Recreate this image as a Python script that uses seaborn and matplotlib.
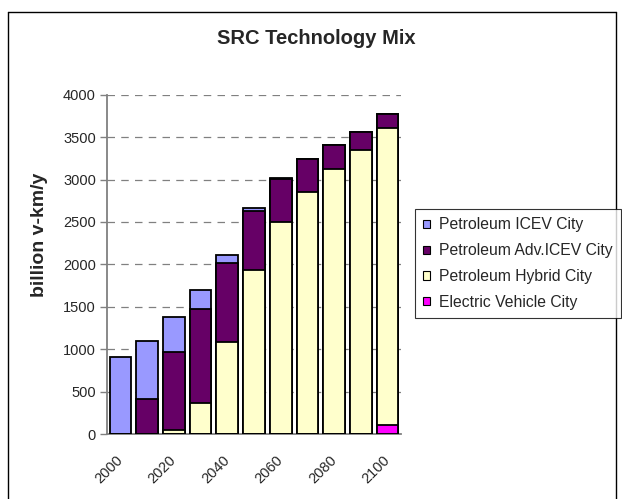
import seaborn as sns, matplotlib.pyplot as plt, pandas as pd
from matplotlib.patches import Patch
from matplotlib.lines import Line2D

years = [str(y) for y in range(2000, 2101, 10)]
icev = [910, 685, 415, 225, 85, 30, 10, 0, 0, 0, 0]
adv_icev = [0, 415, 920, 1105, 935, 700, 510, 385, 287, 212, 157]
hybrid = [0, 0, 45, 370, 1085, 1930, 2495, 2858, 3121, 3345, 3507]
electric = [0, 0, 0, 0, 0, 0, 0, 0, 0, 0, 105]

names = ["Petroleum ICEV City", "Petroleum Adv.ICEV City",
         "Petroleum Hybrid City", "Electric Vehicle City"]
colors = ["#9999FF", "#660066", "#FFFFCC", "#FF00FF"]

sns.set_style("white")
plt.rcParams["font.family"] = ["Liberation Sans", "DejaVu Sans"]

df = pd.DataFrame({"year": years, "icev": icev, "adv": adv_icev,
                   "hybrid": hybrid, "ev": electric})
# cumulative heights, drawn top segment first
df["c_ev"] = df["ev"]
df["c_hyb"] = df["c_ev"] + df["hybrid"]
df["c_adv"] = df["c_hyb"] + df["adv"]
df["c_icev"] = df["c_adv"] + df["icev"]

fig = plt.figure(figsize=(6.22, 4.99), dpi=100)
ax = fig.add_axes([107/622, 1-434/499, 294/622, (434-94.7)/499])

for col, c in zip(["c_icev", "c_adv", "c_hyb", "c_ev"], colors):
    sns.barplot(data=df, x="year", y=col, order=years, color=c, saturation=1,
                width=0.81, edgecolor="black", linewidth=1.3, ax=ax, zorder=3)

ax.set_xlim(-0.5, 10.5)
ax.set_ylim(0, 4000)
ax.set_yticks(range(0, 4001, 500))
ax.yaxis.grid(True, color="#808080", linestyle=(0, (6, 5)), linewidth=0.9)
ax.set_axisbelow(True)
for s in ["top", "right"]:
    ax.spines[s].set_visible(False)
for s in ["left", "bottom"]:
    ax.spines[s].set_color("#808080")
    ax.spines[s].set_linewidth(1.3)

ax.set_xticks(range(11))
ax.set_xticklabels([y if i % 2 == 0 else "" for i, y in enumerate(years)],
                   rotation=45, ha="right", va="center", rotation_mode="anchor",
                   fontsize=10.5)
ax.tick_params(axis="x", which="major", length=0, pad=17.5)
ax.set_xticks([i - 0.5 for i in range(12)], minor=True)
ax.tick_params(axis="x", which="minor", length=5, width=1, color="#808080", direction="out")
ax.tick_params(axis="y", length=5, width=1, color="#808080", direction="out",
               labelsize=10.5, left=True, pad=3)
ax.set_xlabel("")
ax.set_ylabel("billion v-km/y", fontsize=14, fontweight="bold")
ax.yaxis.set_label_coords(-0.2, 0.586)

fig.text(316/622, 1-39/499, "SRC Technology Mix", ha="center", va="center",
         fontsize=14.5, fontweight="bold")

handles = [Patch(facecolor=c, edgecolor="black", linewidth=0.8, label=n)
           for n, c in zip(names, colors)]
leg = fig.legend(handles=handles, loc="upper left", bbox_to_anchor=(414.7/622, 1-209/499),
                 frameon=True, fancybox=False, edgecolor="black", fontsize=11.3,
                 handlelength=0.43, handleheight=0.43, handletextpad=0.55,
                 labelspacing=0.69, borderpad=0.54, borderaxespad=0)
leg.get_frame().set_linewidth(0.8)

# outer chart border
fig.add_artist(Line2D([8/622, 8/622], [0, 1-12/499], transform=fig.transFigure, color="black", lw=1))
fig.add_artist(Line2D([8/622, 616/622], [1-12/499, 1-12/499], transform=fig.transFigure, color="black", lw=1))
fig.add_artist(Line2D([616/622, 616/622], [0, 1-12/499], transform=fig.transFigure, color="black", lw=1))

fig.savefig("out.png", dpi=100)
